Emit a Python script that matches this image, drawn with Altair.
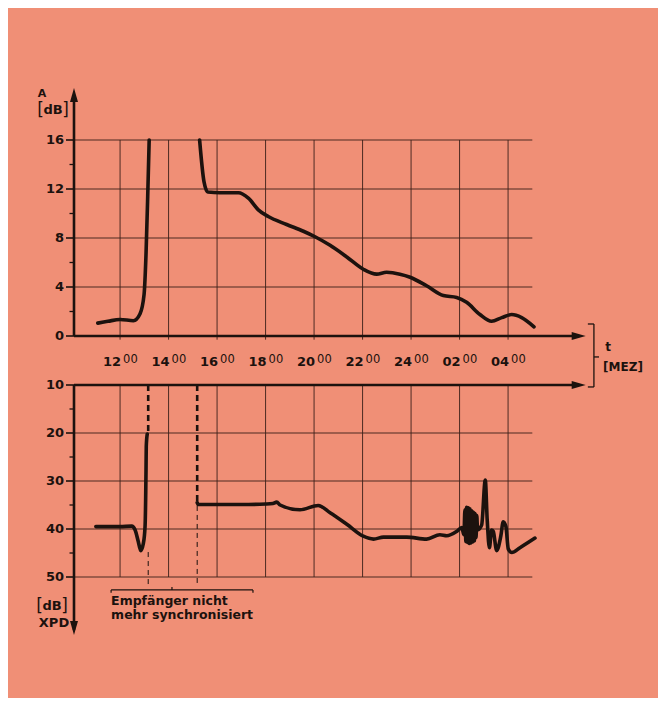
import altair as alt
import pandas as pd

# ---------------- data (hours: 24 = midnight, 26 = 02:00, 28 = 04:00) ----------------
tick_hours = [12, 14, 16, 18, 20, 22, 24, 26, 28]
tick_labels = ["12", "14", "16", "18", "20", "22", "24", "02", "04"]

a_ticks = [0, 4, 8, 12, 16]
a_minor = [2, 6, 10, 14]
xpd_ticks = [10, 20, 30, 40, 50]
xpd_minor = [15, 25, 35, 45]

# attenuation A [dB], before loss of sync
a1_t = [11.08, 11.5, 12.0, 12.55, 12.82, 12.99, 13.07, 13.14, 13.2]
a1_v = [1.05, 1.2, 1.35, 1.25, 1.8, 3.4, 6.7, 11.4, 16.0]
# attenuation A [dB], after resync
a2_t = [15.28, 15.46, 15.62, 16.12, 16.88, 17.29, 17.7, 18.11, 18.87, 19.56, 20.04,
        20.66, 21.35, 22.03, 22.58, 22.99, 23.54, 23.96, 24.64, 25.33, 25.88, 26.29,
        26.84, 27.32, 27.74, 28.15, 28.56, 29.07]
a2_v = [16.0, 12.6, 11.75, 11.7, 11.7, 11.25, 10.3, 9.75, 9.1, 8.55, 8.1,
        7.4, 6.45, 5.45, 5.05, 5.2, 5.05, 4.8, 4.1, 3.3, 3.15, 2.75,
        1.75, 1.2, 1.5, 1.75, 1.5, 0.75]

# XPD [dB]
x1_t = [11.0, 12.0, 12.48, 12.62, 12.75, 12.85, 12.96, 13.03, 13.07, 13.08, 13.12]
x1_v = [39.5, 39.5, 39.4, 40.2, 42.6, 44.5, 43.0, 39.5, 27.7, 22.8, 20.2]

x2_t = [15.18, 15.22, 16.0, 17.0, 18.0, 18.3, 18.46, 18.6, 19.42, 20.17, 20.66,
        21.35, 22.03, 22.45, 22.86, 23.82, 24.64, 25.19, 25.47, 25.88, 26.09, 26.18,
        26.22, 26.26, 26.29, 26.33, 26.36, 26.40, 26.43, 26.47, 26.50, 26.54, 26.57,
        26.61, 26.64, 26.68, 26.71, 26.74,
        26.91, 27.06, 27.14, 27.23, 27.32, 27.39, 27.53, 27.7, 27.8, 27.91, 28.01,
        28.15, 28.49, 29.11]
x2_v = [34.5, 34.9, 34.9, 34.9, 34.8, 34.7, 34.4, 35.0, 36.0, 35.1, 36.6,
        39.0, 41.5, 42.1, 41.7, 41.7, 42.1, 41.2, 41.4, 40.5, 39.7, 41.2,
        36.0, 42.6, 35.5, 42.8, 35.6, 43.0, 35.8, 42.9, 36.2, 42.7, 36.5,
        42.5, 36.8, 41.8, 37.2, 40.2,
        39.2, 29.8, 38.2, 43.9, 40.2, 40.5, 44.5, 41.5, 38.5, 39.5, 44.2,
        44.9, 43.9, 41.9]

# ---------------- geometry / style ----------------
BG = "#F08F76"
INK = "#1c120e"
GRID = "#3b2019"
FONT = "DejaVu Sans"

PX_PER_H = 24.25
H0 = 10.1
W, H = 584, 690
H1 = H0 + W / PX_PER_H
GRID_END = 29.0
ARROW_X = 31.2

A_TOP = 328 / 12.25
A_BOT = -(H - 328) / 12.25
X_TOP = 10 - 377 / 4.8
X_BOT = 10 + (H - 377) / 4.8

xs = alt.Scale(domain=[H0, H1], nice=False, zero=False)
ya = alt.Scale(domain=[A_BOT, A_TOP], nice=False, zero=False)
yx = alt.Scale(domain=[X_TOP, X_BOT], reverse=True, nice=False, zero=False)


def X(f):
    return alt.X(f, type="quantitative", scale=xs, axis=None)


def Y(f, sc):
    return alt.Y(f, type="quantitative", scale=sc, axis=None)


def hlines(ys, x0, x1, sc, **kw):
    df = pd.DataFrame({"y": ys, "x0": x0, "x1": x1})
    return alt.Chart(df).mark_rule(**kw).encode(x=X("x0"), x2="x1", y=Y("y", sc))


def vlines(xv, y0, y1, sc, **kw):
    df = pd.DataFrame({"x": xv, "y0": y0, "y1": y1})
    return alt.Chart(df).mark_rule(**kw).encode(x=X("x"), y=Y("y0", sc), y2="y1")


def arrow(xv, yv, sc, path):
    df = pd.DataFrame({"x": [xv], "y": [yv]})
    return alt.Chart(df).mark_point(shape=path, size=196, filled=True, color=INK,
                                    opacity=1, strokeWidth=0).encode(x=X("x"), y=Y("y", sc))


def texts(rows, sc, **kw):
    df = pd.DataFrame(rows, columns=["x", "y", "t"])
    return alt.Chart(df).mark_text(font=FONT, color=INK, **kw).encode(
        x=X("x"), y=Y("y", sc), text="t:N")


def curve(ts, vs, sc):
    df = pd.DataFrame({"x": ts, "y": vs, "i": range(len(ts))})
    return alt.Chart(df).mark_line(color=INK, strokeWidth=3.6, strokeJoin="round",
                                   strokeCap="round", interpolate="monotone").encode(
        x=X("x"), y=Y("y", sc), order="i:Q")


def unit_label(xc, yc, sc, fs):
    """'[dB]' with thin tall brackets and bold letters, centred at xc."""
    return [
        texts([(xc, yc, "dB")], sc, align="center", baseline="middle",
              fontSize=fs, fontWeight="bold"),
        texts([(xc - 12.5 / PX_PER_H, yc, "["), (xc + 12.5 / PX_PER_H, yc, "]")], sc,
              align="center", baseline="middle", fontSize=fs + 4, fontWeight="normal"),
    ]


RIGHT = "M0,0L-2,-0.57L-2,0.57Z"
UP = "M0,0L-0.57,2L0.57,2Z"
DOWN = "M0,0L-0.57,-2L0.57,-2Z"
TK = 8 / PX_PER_H
TKm = 4.5 / PX_PER_H
gstyle = dict(color=GRID, strokeWidth=1, opacity=0.9)
astyle = dict(color=INK, strokeWidth=2.6)

# ---------------- upper panel: attenuation ----------------
top_layers = [
    hlines(a_ticks[1:], H0, GRID_END, ya, **gstyle),
    vlines(tick_hours, -0.3, 16, ya, **gstyle),
    hlines([0], H0, ARROW_X - 0.4, ya, **astyle),
    vlines([H0], 0, 19.6, ya, **astyle),
    hlines(a_ticks, H0 - TK, H0, ya, color=INK, strokeWidth=1.6),
    hlines(a_minor, H0 - TKm, H0, ya, color=INK, strokeWidth=1.3),
    arrow(ARROW_X, 0, ya, RIGHT),
    arrow(H0, 20.25, ya, UP),
    texts([(H0, v, str(v)) for v in a_ticks], ya, dx=-10, align="right",
          baseline="middle", fontSize=13, fontWeight="bold"),
    texts([(h, -2.42, s) for h, s in zip(tick_hours, tick_labels)], ya, dx=1,
          align="right", baseline="alphabetic", fontSize=13, fontWeight="bold"),
    texts([(h, -2.42, "00") for h in tick_hours], ya, dx=3, dy=-3,
          align="left", baseline="alphabetic", fontSize=11.5),
    texts([(H0 - 32 / PX_PER_H, 19.75, "A")], ya, align="center",
          baseline="middle", fontSize=11, fontWeight="bold"),
    *unit_label(H0 - 21 / PX_PER_H, 18.45, ya, 13),
    # t [MEZ] bracket
    vlines([31.54], 0.98, -4.16, ya, color=INK, strokeWidth=1.3),
    hlines([0.98, -4.16], 31.29, 31.54, ya, color=INK, strokeWidth=1.3),
    hlines([-1.71], 31.54, 31.75, ya, color=INK, strokeWidth=1.3),
    texts([(32.13, -0.9, "t")], ya, align="center", baseline="middle",
          fontSize=12, fontWeight="bold"),
    texts([(32.74, -2.55, "[MEZ]")], ya, align="center", baseline="middle",
          fontSize=12, fontWeight="bold"),
    curve(a1_t, a1_v, ya),
    curve(a2_t, a2_v, ya),
]

# ---------------- lower panel: XPD ----------------
bottom_layers = [
    hlines(xpd_ticks[1:], H0, GRID_END, yx, **gstyle),
    vlines(tick_hours, 10, 50, yx, **gstyle),
    hlines([10], H0, ARROW_X - 0.4, yx, **astyle),
    vlines([H0], 10, 61.0, yx, **astyle),
    hlines(xpd_ticks, H0 - TK, H0, yx, color=INK, strokeWidth=1.6),
    hlines(xpd_minor, H0 - TKm, H0, yx, color=INK, strokeWidth=1.3),
    arrow(ARROW_X, 10, yx, RIGHT),
    arrow(H0, 62.1, yx, DOWN),
    texts([(H0, v, str(v)) for v in xpd_ticks], yx, dx=-10, align="right",
          baseline="middle", fontSize=13, fontWeight="bold"),
    *unit_label(H0 - 22 / PX_PER_H, 56.0, yx, 13),
    texts([(H0 - 20 / PX_PER_H, 59.5, "XPD")], yx, align="center",
          baseline="middle", fontSize=13, fontWeight="bold"),
    # loss of synchronisation markers
    vlines([13.16, 15.18], [10, 10], [20.3, 34.6], yx, color=INK, strokeWidth=2.6,
           strokeDash=[6, 4]),
    vlines([13.16, 15.18], [44.8, 35.2], [51.5, 51.5], yx, color=INK, strokeWidth=1,
           strokeDash=[5, 4]),
    hlines([52.7], 11.63, 17.48, yx, color=INK, strokeWidth=1.2),
    vlines([11.63, 17.48], 52.7, 53.3, yx, color=INK, strokeWidth=1.2),
    vlines([14.14], 52.1, 52.7, yx, color=INK, strokeWidth=1.2),
    texts([(11.63, 55.8, "Empfänger nicht"), (11.63, 58.75, "mehr synchronisiert")],
          yx, align="left", baseline="alphabetic", fontSize=12.5, fontWeight="bold"),
    curve(x1_t, x1_v, yx),
    curve(x2_t, x2_v, yx),
]

top = alt.layer(*top_layers)
bottom = alt.layer(*bottom_layers)

chart = (
    alt.layer(top, bottom)
    .resolve_scale(y="independent")
    .properties(width=W, height=H, autosize="none",
                padding={"left": 66, "top": 0, "right": 0, "bottom": 0},
                background=BG)
    .configure_view(stroke=None)
)

chart.save("out.html", embed_options={"renderer": "svg", "actions": False})
